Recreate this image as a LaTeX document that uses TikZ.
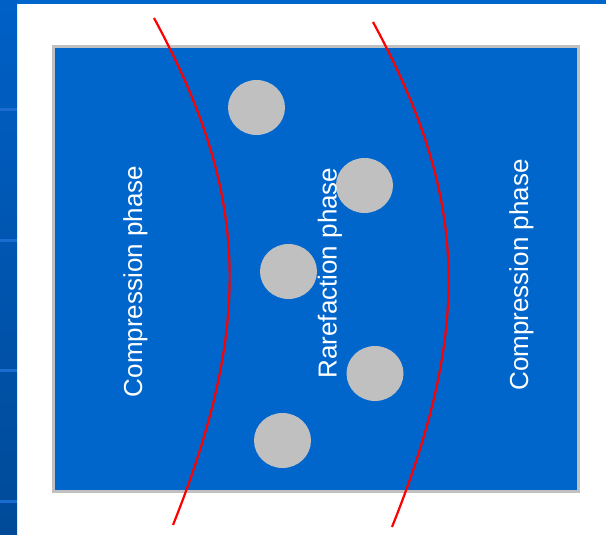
\documentclass[tikz,border=0pt]{standalone}
\usepackage{fontspec}
\setmainfont{Liberation Sans}
\usetikzlibrary{shapes.geometric}
\definecolor{slideblue}{HTML}{0066CC}
\definecolor{striptop}{HTML}{0060C6}
\definecolor{stripbot}{HTML}{004A98}
\definecolor{stripline}{HTML}{1A6CD0}
\definecolor{particle}{HTML}{C0C0C0}
\definecolor{frame}{HTML}{C0C0C0}
\definecolor{wave}{HTML}{FF0000}
\tikzset{
  particlenode/.style={ellipse, fill=particle, draw=none, minimum width=57pt, minimum height=55pt, inner sep=0pt},
  phaselabel/.style={rotate=90, text=white, font=\fontsize{26pt}{30pt}\selectfont, inner sep=0pt},
  wavefront/.style={draw=wave, line width=2.2pt},
  stripsep/.style={draw=stripline, line width=2.5pt}
}
\begin{document}
\begin{tikzpicture}[x=1pt,y=-1pt]
\useasboundingbox (0,0) rectangle (606,535);
\fill[white] (0,0) rectangle (606,535);
% top band and left strip
\fill[slideblue] (0,0) rectangle (606,4.5);
\shade[top color=striptop, bottom color=stripbot] (0,0) rectangle (17,535);
\foreach \yy in {109.5,240.5,370.5,501.5} {\draw[stripsep] (0,\yy) -- (17,\yy);}
% main panel
\draw[fill=slideblue, draw=frame, line width=3pt] (53.5,46.5) rectangle (578.5,491);
% particles
\node[particlenode] (p1) at (256.5,107.5) {};
\node[particlenode] (p2) at (364.5,185.5) {};
\node[particlenode] (p3) at (288.5,271.5) {};
\node[particlenode] (p4) at (375,373.5) {};
\node[particlenode] (p5) at (282.5,440.5) {};
% labels
\node[phaselabel] (l1) at (135.5,281.5) {Compression phase};
\node[phaselabel] (l2) at (330,273) {Rarefaction phase};
\node[phaselabel] (l3) at (521.5,275) {Compression phase};
% wavefronts
\coordinate (w1a) at (154,18);
\coordinate (w1b) at (173,525);
\coordinate (w2a) at (373,22);
\coordinate (w2b) at (392,527);
\draw[wavefront] (w1a) .. controls (245,186) and (257,315) .. (w1b);
\draw[wavefront] (w2a) .. controls (464,190) and (476,318) .. (w2b);
\end{tikzpicture}
\end{document}
